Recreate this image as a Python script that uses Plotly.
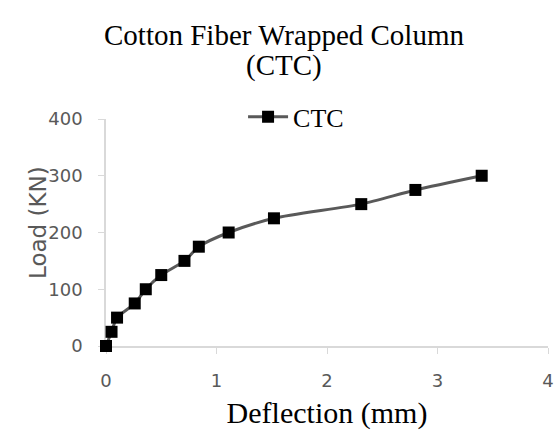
import plotly.graph_objects as go

# Load-deflection readings for the cotton fiber wrapped column
deflection_mm = [0, 0.05, 0.1, 0.26, 0.36, 0.5, 0.71, 0.84, 1.11, 1.52, 2.31, 2.8, 3.4]
load_kn = [0, 25, 50, 75, 100, 125, 150, 175, 200, 225, 250, 275, 300]

x_ticks = [0, 1, 2, 3, 4]
y_ticks = [0, 100, 200, 300, 400]

title_lines = ["Cotton Fiber Wrapped Column", "(CTC)"]

serif = "Liberation Serif, Times New Roman, DejaVu Serif, serif"
sans = "DejaVu Sans, Verdana, sans-serif"
axis_grey = "#d9d9d9"
text_grey = "#595959"

fig = go.Figure()
fig.add_trace(go.Scatter(
    x=deflection_mm,
    y=load_kn,
    name="CTC",
    mode="lines+markers",
    line=dict(color="#595959", width=3, shape="spline", smoothing=0.7),
    marker=dict(symbol="square", size=12, color="#000000"),
    cliponaxis=False,
))

# two-line chart heading placed above the legend
for text, ypos in zip(title_lines, [1.37, 1.234]):
    fig.add_annotation(
        text=text, xref="paper", yref="paper",
        x=0.403, y=ypos, xanchor="center", yanchor="middle",
        showarrow=False,
        font=dict(family=serif, size=29, color="#000000"),
    )

# vertical axis caption
fig.add_annotation(
    text="Load (KN)", xref="paper", yref="paper",
    x=-0.154, y=0.546, xanchor="center", yanchor="middle",
    textangle=-90, showarrow=False,
    font=dict(family=sans, size=23, color=text_grey),
)

fig.update_layout(
    width=558,
    height=430,
    margin=dict(l=106, r=10, t=119, b=84),
    paper_bgcolor="white",
    plot_bgcolor="white",
    showlegend=True,
    legend=dict(
        orientation="h",
        x=0.43, xanchor="center",
        y=1.009, yanchor="middle",
        font=dict(family=serif, size=26, color="#000000"),
        bgcolor="rgba(0,0,0,0)",
        itemwidth=40,
    ),
    xaxis=dict(
        range=[0, 4],
        tickvals=x_ticks,
        ticktext=[str(v) for v in x_ticks],
        showgrid=False,
        zeroline=False,
        showline=True,
        linecolor=axis_grey,
        linewidth=1.5,
        layer="below traces",
        automargin=False,
        ticks="outside",
        ticklen=6,
        tickcolor=axis_grey,
        ticklabelstandoff=12,
        tickfont=dict(family=sans, size=18, color=text_grey),
        title=dict(text="Deflection (mm)", font=dict(family=serif, size=30, color="#000000"), standoff=14),
    ),
    yaxis=dict(
        range=[0, 400],
        tickvals=y_ticks,
        ticktext=[str(v) for v in y_ticks],
        showgrid=False,
        zeroline=False,
        showline=True,
        linecolor=axis_grey,
        linewidth=1.5,
        layer="below traces",
        automargin=False,
        ticks="outside",
        ticklen=6,
        tickcolor=axis_grey,
        ticklabelstandoff=12,
        tickfont=dict(family=sans, size=18, color=text_grey),
    ),
)

fig.write_html("out.html")
